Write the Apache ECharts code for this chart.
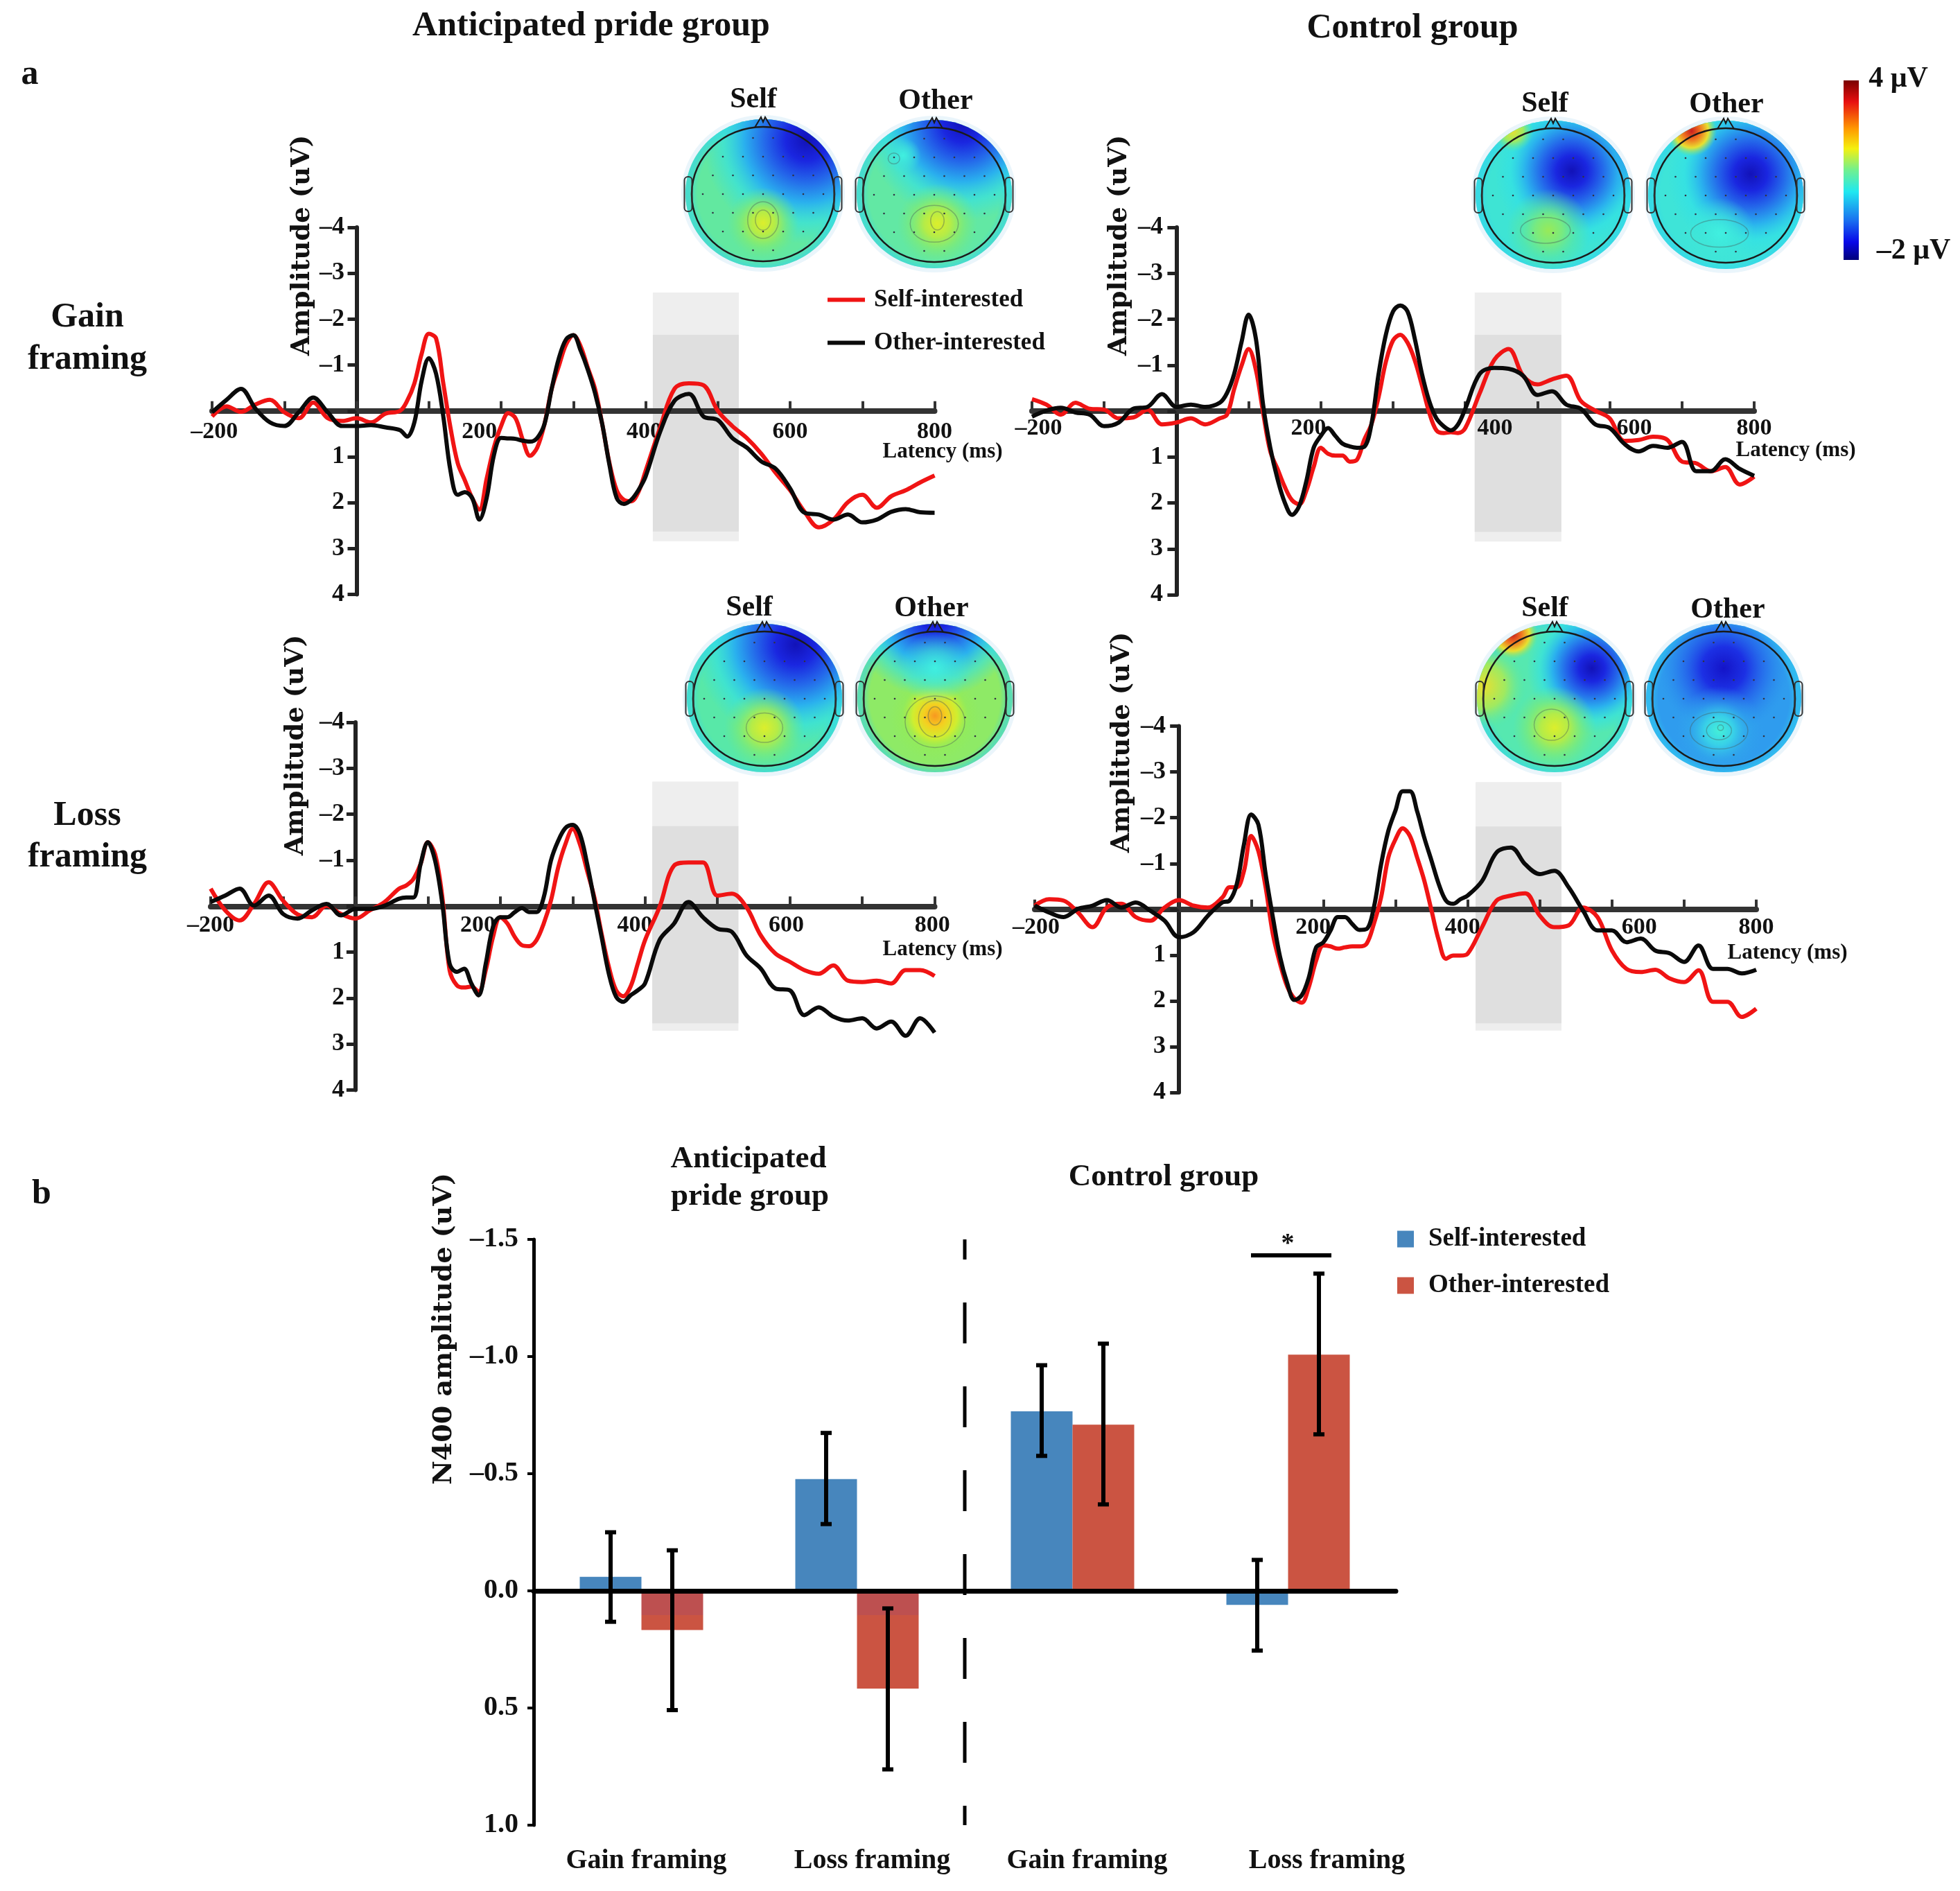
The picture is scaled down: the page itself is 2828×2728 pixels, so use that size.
<!DOCTYPE html>
<html><head><meta charset="utf-8">
<style>html,body{margin:0;padding:0;background:#fff}#c{width:2828px;height:2728px}</style>
<script src="https://cdn.jsdelivr.net/npm/echarts@6/dist/echarts.min.js"></script>
</head><body><div id="c"></div>
<script>
// ---------- data ----------
const latency = [-200,-180,-160,-140,-120,-100,-80,-60,-40,-20,0,20,40,
 60,70,80,90,100,110,120,130,140,150,160,170,180,190,200,210,220,230,240,250,260,270,280,290,300,310,320,330,340,350,360,370,380,390,400,
 420,440,460,480,500,520,540,560,580,600,620,640,660,680,700,720,740,760,780,800];

const gainPrideSelf = [.12,-.1,.02,-.14,-.24,.03,.16,-.18,.16,.22,.16,.25,.06,
 0,-.22,-.6,-1.24,-1.68,-1.58,-.6,.37,1.14,1.52,1.9,2.15,1.48,.8,.33,.05,.16,.63,.98,.8,.29,-.48,-.98,-1.45,-1.65,-1.41,-.94,-.48,.29,1.14,1.73,1.94,1.97,1.77,1.31,
 .37,-.48,-.6,-.56,0,.33,.59,.93,1.35,1.73,2.2,2.54,2.37,1.99,1.83,2.11,1.86,1.73,1.56,1.41];
const gainPrideOther = [.03,-.24,-.48,-.05,.25,.33,.03,-.29,.03,.33,.33,.31,.36,
 .42,.56,.25,-.65,-1.15,-.81,.12,1.31,1.83,1.77,1.9,2.37,1.9,.97,.59,.6,.61,.65,.67,.59,.29,-.48,-1.15,-1.56,-1.65,-1.32,-.9,-.39,.29,1.18,1.9,2.03,1.94,1.73,1.43,
 .46,-.22,-.37,.12,.2,.59,.8,1.1,1.26,1.69,2.22,2.26,2.37,2.26,2.43,2.37,2.2,2.14,2.21,2.22];
const gainControlSelf = [-.26,-.14,.08,-.18,-.05,-.03,.16,.14,-.03,.29,.25,.16,.29,
 .16,.08,-.48,-.98,-1.35,-.9,.03,.88,1.26,1.65,1.94,2.03,1.73,1.22,.8,.93,.97,.97,1.1,1.06,.63,.29,-.31,-1.07,-1.54,-1.66,-1.49,-1.11,-.56,.03,.42,.48,.46,.48,.37,
 -.39,-1.11,-1.35,-.77,-.58,-.69,-.77,-.22,-.01,.16,.65,.63,.56,.63,1.1,1.14,1.31,1.22,1.6,1.43];
const gainControlOther = [.12,-.01,-.07,.03,.08,.33,.25,-.05,-.09,-.37,-.09,-.14,-.09,
 -.18,-.39,-.81,-1.49,-2.1,-1.58,-.14,.8,1.48,1.99,2.26,2.07,1.52,.8,.54,.37,.54,.71,.77,.8,.78,.29,-.81,-1.66,-2.17,-2.3,-2.17,-1.58,-.81,-.22,.16,.33,.42,.29,-.05,
 -.81,-.94,-.92,-.77,-.35,-.43,-.14,-.05,.29,.37,.71,.88,.76,.8,.67,1.31,1.31,1.05,1.26,1.41];
const lossPrideSelf = [-.38,.09,.31,-.05,-.52,-.12,.18,.24,-.01,.17,.27,.09,-.09,
 -.38,-.45,-.59,-.92,-1.39,-1.13,-.19,1.39,1.72,1.77,1.75,1.86,1.39,.67,.24,.38,.67,.85,.87,.74,.38,-.12,-.84,-1.35,-1.68,-1.35,-.77,-.19,.6,1.32,1.83,1.96,1.75,1.25,.74,
 .02,-.88,-.95,-.95,-.23,-.27,.02,.64,1.03,1.21,1.39,1.47,1.29,1.62,1.65,1.62,1.68,1.39,1.39,1.52];
const lossPrideOther = [-.09,-.23,-.38,-.01,-.23,.17,.27,.09,-.05,.2,.06,.06,-.01,
 -.16,-.19,-.19,-.92,-1.39,-.99,-.05,1.25,1.43,1.36,1.68,1.94,1.25,.45,.24,.24,.13,.04,.13,.13,-.19,-.99,-1.42,-1.7,-1.77,-1.57,-.92,-.12,.67,1.47,1.97,2.08,1.94,1.83,1.68,
 .74,.38,-.09,.24,.49,.56,1.07,1.36,1.79,1.83,2.37,2.2,2.4,2.49,2.44,2.66,2.51,2.82,2.44,2.75];
const lossControlSelf = [-.08,-.22,-.19,.07,.39,-.04,-.12,.17,.25,-.04,-.2,-.08,-.04,
 -.26,-.48,-.48,-.84,-1.6,-1.27,-.48,.54,1.19,1.69,1.95,2.04,1.69,1.12,.79,.81,.86,.83,.81,.81,.75,.32,-.26,-1.13,-1.53,-1.77,-1.6,-1.13,-.62,.03,.68,1.08,1.01,1.01,.97,
 .39,-.19,-.3,-.35,.14,.39,.35,-.04,.17,.9,1.3,1.37,1.32,1.51,1.59,1.33,2.02,2.02,2.35,2.17];
const lossControlOther = [-.08,.07,.17,-.01,-.08,-.2,-.04,-.15,.03,.25,.61,.5,.14,
 -.15,-.19,-.55,-1.42,-2.07,-1.85,-.77,.17,1.04,1.62,1.98,1.88,1.48,.83,.72,.46,.17,.17,.32,.45,.43,-.04,-.98,-1.71,-2.16,-2.58,-2.58,-2.14,-1.56,-1.06,-.55,-.19,-.12,-.22,-.3,
 -.62,-1.24,-1.35,-.98,-.77,-.84,-.48,.03,.46,.46,.72,.64,.9,.96,1.15,.79,1.3,1.3,1.4,1.32];

const xTickLabels = ['–200','200','400','600','800'];

const barCategories = ['Gain framing','Loss framing','Gain framing ','Loss framing '];
const barSelf = [-.06,-.477,-.766,.06];
const barOther = [.167,.417,-.709,-1.008];
const errSelfLow = [-.25,-.674,-.963,-.132];
const errSelfHigh = [.132,-.285,-.576,.255];
const errOtherLow = [-.173,.075,-1.055,-1.354];
const errOtherHigh = [.509,.762,-.369,-.668];
const dividerAfterCategory = 1;

// ---------- layout ----------
const SERIF = '"Liberation Serif", serif';
const panels = [
 {left:306,top:328,w:1042.5,h:529.5,self:gainPrideSelf,other:gainPrideOther,
  labelAt:[-197,170,398,600,800],shade:[410,529,-2.58,2.84,-1.66,2.63],nameAt:[435,354],xm:-251,ym:-191},
 {left:1489,top:328,w:1042,h:530,self:gainControlSelf,other:gainControlOther,
  labelAt:[-191,183,441,634,800],shade:[413,533,-2.58,2.84,-1.66,2.63],nameAt:[1614,354],xm:-257,ym:-189},
 {left:304,top:1042,w:1044.5,h:530.5,self:lossPrideSelf,other:lossPrideOther,
  labelAt:[-200,169,386,595,797],shade:[410,529,-2.71,2.71,-1.74,2.55],nameAt:[426,1075],xm:-254,ym:-193},
 {left:1493,top:1047.6,w:1041,h:528.4,self:lossControlSelf,other:lossControlOther,
  labelAt:[-198,186,393,638,800],shade:[411,530,-2.78,2.65,-1.81,2.49],nameAt:[1618,1071],xm:-255,ym:-189}
];
const latencyNames = [[1360,651],[2591,649],[1360,1369],[2579,1374]];

const grids=[],xAxes=[],yAxes=[],series=[];
panels.forEach((p,i)=>{
 grids.push({left:p.left,top:p.top,width:p.w,height:p.h,containLabel:false,outerBoundsMode:'none'});
 const yAxisX = p.left + p.w*0.2;
 const lab = {}; p.labelAt.forEach((v,k)=>lab[v]=xTickLabels[k]);
 const ln = latencyNames[i];
 xAxes.push({type:'value',gridIndex:i,min:-200,max:800,interval:100,z:1.5,
  axisLine:{onZero:true,lineStyle:{color:'#333',width:8}},
  axisTick:{show:true,inside:true,length:14,lineStyle:{color:'#333',width:4}},
  splitLine:{show:false},
  axisLabel:{customValues:p.labelAt,formatter:v=>lab[v]||'',margin:p.xm,color:'#111',fontFamily:SERIF,fontWeight:'bold',fontSize:34,hideOverlap:false,showMinLabel:true,showMaxLabel:true},
  name:'Latency (ms)',nameLocation:'end',nameGap:ln[0]-(p.left+p.w),nameMoveOverlap:false,
  nameTextStyle:{color:'#111',fontFamily:SERIF,fontWeight:'bold',fontSize:31,align:'center',verticalAlign:'top',padding:[(ln[1]-(p.top+p.h/2))*1-15,0,0,0]}
 });
 yAxes.push({type:'value',gridIndex:i,inverse:true,min:-4,max:4,interval:1,z:1.5,
  axisLine:{show:true,onZero:true,lineStyle:{color:'#222',width:6}},
  axisTick:{show:true,length:13,lineStyle:{color:'#222',width:5}},
  splitLine:{show:false},
  axisLabel:{formatter:v=>v===0?'':(v<0?'–'+(-v):''+v),margin:p.ym,color:'#111',fontFamily:SERIF,fontWeight:'bold',fontSize:36},
  name:'Amplitude (uV)',nameLocation:'start',nameRotate:90,nameMoveOverlap:false,
  nameGap:p.top-p.nameAt[1],
  nameTextStyle:{color:'#111',fontFamily:'"DejaVu Serif", serif',fontWeight:'bold',fontSize:37,align:'center',verticalAlign:'bottom',
   padding:[0,0,yAxisX-p.nameAt[0]-20,0]}
 });
 const s=p.shade;
 series.push({name:'Self-interested',type:'line',xAxisIndex:i,yAxisIndex:i,smooth:.35,showSymbol:false,silent:true,
  lineStyle:{color:'#f01414',width:6},itemStyle:{color:'#f01414'},
  data:latency.map((x,k)=>[x,p.self[k]]),
  markArea:{silent:true,z:1,data:[
   [{xAxis:s[0],yAxis:s[2],itemStyle:{color:'#eeeeee'}},{xAxis:s[1],yAxis:s[3]}],
   [{xAxis:s[0],yAxis:s[4],itemStyle:{color:'#dfdfdf'}},{xAxis:s[1],yAxis:s[5]}]]}});
 series.push({name:'Other-interested',type:'line',xAxisIndex:i,yAxisIndex:i,smooth:.35,showSymbol:false,silent:true,z:3,
  lineStyle:{color:'#0a0a0a',width:6},itemStyle:{color:'#0a0a0a'},
  data:latency.map((x,k)=>[x,p.other[k]])});
});

// bar panel
const B=4, BAR_W=89;
grids.push({left:770,top:1788,width:1244,height:845,containLabel:false,outerBoundsMode:'none'});
const richLab={g0:{padding:[0,0,0,14]},g1:{padding:[0,0,0,44]},g2:{padding:[0,0,0,42]},g3:{padding:[0,0,0,112]}};
Object.values(richLab).forEach(r=>Object.assign(r,{fontFamily:SERIF,fontWeight:'bold',fontSize:40,color:'#111'}));
xAxes.push({type:'category',gridIndex:B,data:barCategories,z:5,
 axisLine:{onZero:true,lineStyle:{color:'#000',width:7}},axisTick:{show:false},splitLine:{show:false},
 axisLabel:{margin:32,interval:0,formatter:(v,i)=>`{g${i}|${v.trim()}}`,rich:richLab}});
yAxes.push({type:'value',gridIndex:B,inverse:true,min:-1.5,max:1,interval:.5,z:5,
 axisLine:{show:true,onZero:false,lineStyle:{color:'#000',width:5}},
 axisTick:{show:true,length:9,lineStyle:{color:'#000',width:4}},splitLine:{show:false},
 axisLabel:{formatter:v=>v<0?'–'+(-v).toFixed(1):v.toFixed(1),margin:22,color:'#111',fontFamily:SERIF,fontWeight:'bold',fontSize:40},
 name:'N400 amplitude (uV)',nameLocation:'start',nameRotate:90,nameMoveOverlap:false,nameGap:-129,
 nameTextStyle:{color:'#111',fontFamily:'"DejaVu Serif", serif',fontWeight:'bold',fontSize:38,align:'center',verticalAlign:'bottom',padding:[0,0,110,0]}});
series.push({name:'Self-interested',type:'bar',xAxisIndex:B,yAxisIndex:B,barWidth:BAR_W,barGap:'0%',silent:true,itemStyle:{color:'#4786bd'},data:barSelf});
const RED_BAR='#cb5442', RED_NEAR='#bd5050', NEAR_DEPTH=.105;
series.push({name:'Other-interested',type:'bar',xAxisIndex:B,yAxisIndex:B,barWidth:BAR_W,barGap:'0%',silent:true,itemStyle:{color:RED_BAR},
 data:barOther.map(v=>v>0?{value:v,itemStyle:{color:{type:'linear',x:0,y:0,x2:0,y2:1,colorStops:[
  {offset:0,color:RED_NEAR},{offset:NEAR_DEPTH/v,color:RED_NEAR},{offset:NEAR_DEPTH/v,color:RED_BAR},{offset:1,color:RED_BAR}]}}}:v)});
function errItem(sign){return function(params,api){
  const x=api.coord([api.value(0),0])[0]+sign*BAR_W/2;
  const a=api.coord([api.value(0),api.value(1)])[1], b=api.coord([api.value(0),api.value(2)])[1];
  const st={stroke:'#000',lineWidth:6};
  return {type:'group',children:[
   {type:'line',shape:{x1:x,y1:a,x2:x,y2:b},style:st},
   {type:'line',shape:{x1:x-8,y1:a,x2:x+8,y2:a},style:st},
   {type:'line',shape:{x1:x-8,y1:b,x2:x+8,y2:b},style:st}]};
}}
series.push({type:'custom',name:'Self error',xAxisIndex:B,yAxisIndex:B,z:6,silent:true,renderItem:errItem(-1),encode:{x:0,y:[1,2]},data:errSelfLow.map((v,i)=>[i,v,errSelfHigh[i]])});
series.push({type:'custom',name:'Other error',xAxisIndex:B,yAxisIndex:B,z:6,silent:true,renderItem:errItem(1),encode:{x:0,y:[1,2]},data:errOtherLow.map((v,i)=>[i,v,errOtherHigh[i]])});
series.push({type:'custom',name:'Divider',xAxisIndex:B,yAxisIndex:B,z:6,silent:true,encode:{x:0,y:[1,2]},
 renderItem:(params,api)=>{
  const x=api.coord([api.value(0),0])[0]+api.size([1,0])[0]/2;
  return {type:'line',shape:{x1:x,y1:api.coord([0,api.value(1)])[1],x2:x,y2:api.coord([0,api.value(2)])[1]},
   style:{stroke:'#000',lineWidth:5,lineDash:[59,62],lineDashOffset:30}};
 },data:[[dividerAfterCategory,-1.5,1]]});

// ---------- scalp maps (decoration) ----------
const BLUE=['#1212b8','#1a26e0','#2468ea','#2ab0ee','rgba(48,224,232,.6)','rgba(48,224,232,0)'];
const EDGEBLUE=['#1c28d8','#2460e8','rgba(40,170,236,.5)','rgba(48,224,232,0)'];
const YEL=['#dcee2c','#b4ec48','rgba(140,236,96,.5)','rgba(120,232,120,0)'];
const CYANB=['#40f0e0','rgba(64,232,216,.6)','rgba(64,232,216,0)'];
const GRN=['#98ea58','#78ea80','rgba(96,232,150,.5)','rgba(96,232,150,0)'];
const WARM=['#f89820','#f4d020','#cfee30','rgba(150,236,80,.4)','rgba(150,236,80,0)'];
const RED=['#c81e1e','#f07020','#e8e030','rgba(120,232,120,0)'];
const YSPOT=['#e8e030','#a0ea60','rgba(80,232,170,0)'];
const stops=a=>a.map((c,i)=>({offset:i/(a.length-1),color:c}));
const topos=[
 {cx:1101,cy:280,base:'#62e8a0',blobs:[[.78,.14,.7,BLUE],[.5,.7,.24,YEL]],rings:[[.5,.68,.08,.11],[.5,.68,.16,.2]]},
 {cx:1348,cy:281,base:'#62e8a4',blobs:[[.68,.02,.66,BLUE],[.3,.24,.12,CYANB],[.52,.7,.27,YEL]],rings:[[.52,.68,.07,.1],[.5,.7,.25,.2],[.24,.26,.06,.06]]},
 {cx:2241,cy:282,base:'#3ee4d4',blobs:[[.92,.22,.36,EDGEBLUE],[.62,.34,.52,BLUE],[.47,.74,.28,GRN],[.24,.07,.14,YSPOT]],rings:[[.45,.74,.26,.14]]},
 {cx:2490,cy:282,base:'#3ee4d8',blobs:[[.94,.24,.36,EDGEBLUE],[.66,.36,.56,BLUE],[.46,.76,.24,CYANB],[.28,.07,.17,RED]],rings:[[.46,.76,.3,.15]]},
 {cx:1103,cy:1008,base:'#58e8a8',blobs:[[.7,.14,.68,BLUE],[.5,.7,.27,YEL]],rings:[[.5,.7,.19,.16]]},
 {cx:1349,cy:1008,base:'#8eea66',blobs:[[.5,-.08,.58,BLUE],[.5,.62,.3,WARM],[.5,.3,.24,CYANB]],rings:[[.5,.62,.07,.1],[.5,.64,.17,.2],[.5,.66,.31,.28]]},
 {cx:2243,cy:1008,base:'#56e8b0',blobs:[[.74,.3,.44,BLUE],[.04,.42,.3,YSPOT],[.23,.07,.17,RED],[.5,.7,.28,YEL]],rings:[[.48,.68,.18,.17]]},
 {cx:2487,cy:1008,base:'#2f9cee',blobs:[[.5,.3,.44,['#1414c8','#1c30e4','rgba(36,100,236,.6)','rgba(40,140,236,0)']],[.47,.72,.3,['#44f0d8','#38d0e8','rgba(48,170,236,.5)','rgba(48,160,236,0)']]],rings:[[.48,.7,.03,.03],[.47,.72,.13,.1],[.47,.72,.3,.2]]}
];
const g=[];
topos.forEach(t=>{
 const rx=103,ry=97,ox=112,oy=107,{cx,cy}=t;
 g.push({type:'ellipse',shape:{cx,cy:cy-1,rx:ox+6,ry:oy+6},style:{fill:'#eaf5fb'}});
 g.push({type:'ellipse',shape:{cx,cy:cy-1,rx:ox,ry:oy},style:{fill:t.base}});
 g.push({type:'ellipse',shape:{cx,cy:cy-1,rx:ox,ry:oy},style:{fill:{type:'radial',x:.5,y:.5,r:.5,global:false,colorStops:[{offset:0,color:'rgba(48,210,236,0)'},{offset:.88,color:'rgba(48,210,236,0)'},{offset:1,color:'rgba(48,210,240,.55)'}]}}});
 t.blobs.forEach(b=>g.push({type:'ellipse',shape:{cx,cy:cy-1,rx:ox,ry:oy},style:{fill:{type:'radial',x:b[0],y:b[1],r:b[2],colorStops:stops(b[3]),global:false}}}));
 t.rings.forEach(r=>g.push({type:'ellipse',shape:{cx:cx-ox+r[0]*2*ox,cy:cy-1-oy+r[1]*2*oy,rx:r[2]*2*ox*.62,ry:r[3]*2*oy*.62},style:{fill:'none',stroke:'rgba(70,90,90,.4)',lineWidth:1.5}}));
 for(let i=-3;i<=3;i++)for(let j=-3;j<=3;j++){
  const dx=(i+(j%2?.5:0))*29,dy=j*27;
  if((dx*dx)/(rx*rx)+(dy*dy)/(ry*ry)<.86) g.push({type:'circle',shape:{cx:cx+dx,cy:cy+dy,r:1.3},style:{fill:'#334'}});
 }
 g.push({type:'ellipse',shape:{cx,cy,rx,ry},style:{fill:'none',stroke:'#1a1a1a',lineWidth:2.5}});
 g.push({type:'polyline',shape:{points:[[cx-12,cy-ry+1],[cx-3,cy-ry-14],[cx,cy-ry-7],[cx+3,cy-ry-14],[cx+12,cy-ry+1]]},style:{fill:'none',stroke:'#1a1a1a',lineWidth:2}});
 [-1,1].forEach(s=>g.push({type:'rect',shape:{x:cx+s*(rx+5)-5.5,y:cy-25,width:11,height:50,r:5},style:{fill:'none',stroke:'#333',lineWidth:2}}));
});
// colour bar
g.push({type:'rect',shape:{x:2660,y:116,width:22,height:259},style:{fill:{type:'linear',x:0,y:0,x2:0,y2:1,colorStops:[
 {offset:0,color:'#7a0000'},{offset:.12,color:'#e81010'},{offset:.27,color:'#ff9a00'},{offset:.38,color:'#f4f010'},{offset:.5,color:'#70f090'},{offset:.62,color:'#20e8f0'},{offset:.78,color:'#1a70f0'},{offset:.9,color:'#0808e8'},{offset:1,color:'#00007a'}]}}});
// significance bar
g.push({type:'rect',shape:{x:1805,y:1808,width:116,height:6},style:{fill:'#000'}});
// texts
const T=(text,x,y,size,extra)=>g.push(Object.assign({type:'text',x,y,z:20,style:{text,fill:'#111',font:`bold ${size}px ${SERIF}`,textAlign:'center',textVerticalAlign:'middle'}},extra||{}));
T('Anticipated pride group',853,38,50);
T('Control group',2038,41,50);
T('a',43,108,50); T('b',60,1723,50);
T('Gain',126,458,50); T('framing',126,519,50);
T('Loss',126,1177,50); T('framing',126,1237,50);
[[1087,144,'Self'],[1350,146,'Other'],[2229,150,'Self'],[2491,151,'Other'],[1081,877,'Self'],[1344,878,'Other'],[2229,878,'Self'],[2493,880,'Other']].forEach(a=>T(a[2],a[0],a[1],42));
T('4 μV',2739,114,42); T('–2 μV',2761,362,42);
T('Anticipated',1080,1672,45); T('pride group',1082,1726,45); T('Control group',1679,1698,45);
T('*',1858,1795,38);

const chart=echarts.init(document.getElementById('c'),null,{renderer:'canvas',width:2828,height:2728});
chart.setOption({
 animation:false,backgroundColor:'#fff',
 grid:grids,xAxis:xAxes,yAxis:yAxes,series,
 legend:[
  {left:1189,top:410,orient:'vertical',icon:'rect',itemWidth:54,itemHeight:6,itemGap:27,selectedMode:false,
   textStyle:{color:'#111',fontFamily:SERIF,fontWeight:'bold',fontSize:35,padding:[0,0,0,8]},
   data:[{name:'Self-interested',itemStyle:{color:'#f01414'},lineStyle:{color:'#f01414'}},{name:'Other-interested',itemStyle:{color:'#0a0a0a'},lineStyle:{color:'#0a0a0a'}}]},
  {left:2011,top:1764,orient:'vertical',icon:'rect',itemWidth:24,itemHeight:24,itemGap:30,selectedMode:false,
   textStyle:{color:'#111',fontFamily:SERIF,fontWeight:'bold',fontSize:37,padding:[0,0,0,16]},
   data:[{name:'Self-interested',itemStyle:{color:'#4786bd'}},{name:'Other-interested',itemStyle:{color:'#cb5442'}}]}
 ],
 graphic:{elements:g}
});
</script></body></html>
